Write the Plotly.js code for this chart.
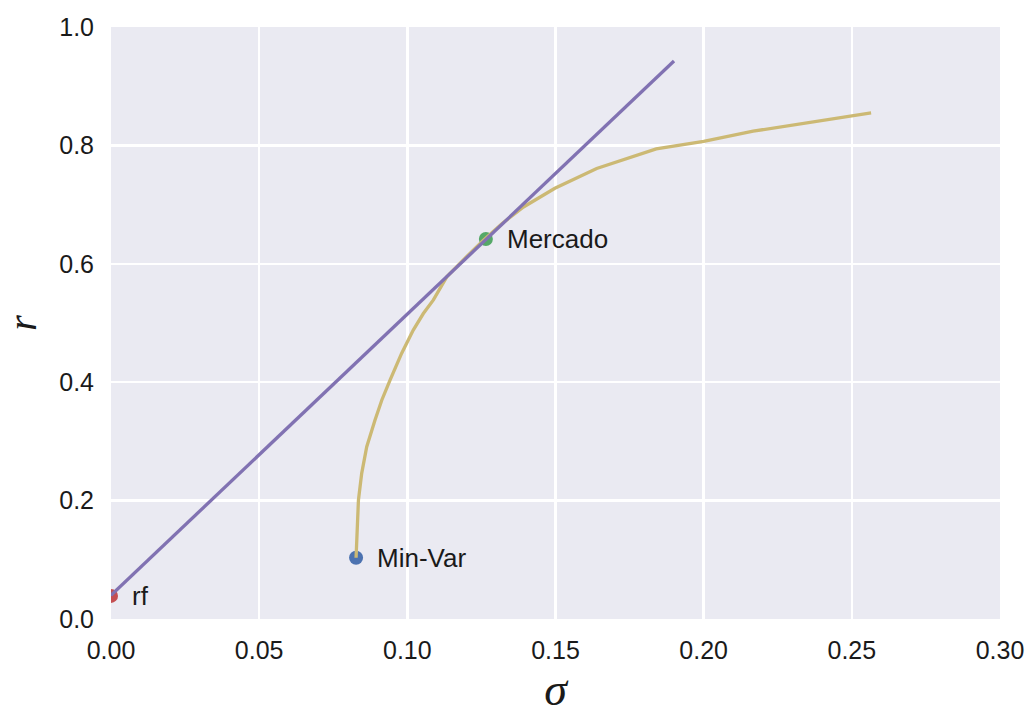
<!DOCTYPE html>
<html>
<head>
<meta charset="utf-8">
<script src="https://cdn.plot.ly/plotly-3.0.1.min.js"></script>
<style>html,body{margin:0;padding:0;background:#fff;}#chart{width:1029px;height:717px;}</style>
</head>
<body>
<div id="chart"></div>
<script>
// Efficient frontier (sigma, r)
const frontierSigma = [0.0827, 0.0829, 0.0831, 0.0835, 0.0846, 0.0863, 0.0891, 0.0914, 0.0942, 0.0981, 0.1020, 0.1054, 0.1088, 0.1133, 0.1200, 0.1257, 0.1320, 0.1392, 0.1498, 0.1639, 0.1840, 0.2000, 0.2167, 0.2565];
const frontierR     = [0.1035, 0.135, 0.1785, 0.201, 0.246, 0.291, 0.336, 0.370, 0.404, 0.449, 0.488, 0.516, 0.539, 0.578, 0.612, 0.640, 0.668, 0.696, 0.7275, 0.761, 0.794, 0.807, 0.824, 0.855];

// Capital market line
const cmlSigma = [0.0, 0.190];
const cmlR     = [0.04, 0.9426];

// Labelled points
const pointNames  = ['rf', 'Min-Var', 'Mercado'];
const pointSigma  = [0.0, 0.0827, 0.1265];
const pointR      = [0.039, 0.1035, 0.642];
const pointColors = ['#C44E52', '#4C72B0', '#55A868'];

const xTicks = [0.00, 0.05, 0.10, 0.15, 0.20, 0.25, 0.30];
const yTicks = [0.0, 0.2, 0.4, 0.6, 0.8, 1.0];

const traces = [];
pointNames.forEach((n, i) => {
  traces.push({
    type: 'scatter', mode: 'markers', x: [pointSigma[i]], y: [pointR[i]],
    marker: {color: pointColors[i], size: 14, line: {width: 0}},
    hoverinfo: 'skip', showlegend: false
  });
});
traces.push({
  type: 'scatter', mode: 'lines', x: frontierSigma, y: frontierR,
  line: {color: '#CCB974', width: 3.3}, showlegend: false
});
traces.push({
  type: 'scatter', mode: 'lines', x: cmlSigma, y: cmlR,
  line: {color: '#8172B2', width: 3.3}, showlegend: false
});

const annotations = pointNames.map((n, i) => ({
  x: pointSigma[i], y: pointR[i], xref: 'x', yref: 'y',
  text: n, showarrow: false, xanchor: 'left', yanchor: 'middle',
  xshift: 19, font: {family: 'Liberation Sans, Arial, sans-serif', size: 26, color: '#1a1a1a'}
}));

const layout = {
  width: 1029, height: 717,
  margin: {l: 111, r: 29, t: 27, b: 98},
  paper_bgcolor: '#ffffff',
  plot_bgcolor: '#EAEAF2',
  font: {family: 'Liberation Sans, Arial, sans-serif', size: 25, color: '#1a1a1a'},
  showlegend: false,
  xaxis: {
    range: [0, 0.30], tickvals: xTicks, tickformat: '.2f',
    showgrid: true, gridcolor: '#ffffff', gridwidth: 2.5,
    zeroline: false, showline: false, ticks: '', ticklabelstandoff: 14,
    tickfont: {size: 25},
    title: {text: 'σ', font: {family: 'Liberation Serif, DejaVu Serif, serif', size: 46, style: 'italic'}, standoff: 4}
  },
  yaxis: {
    range: [0, 1.0], tickvals: yTicks, tickformat: '.1f',
    showgrid: true, gridcolor: '#ffffff', gridwidth: 2.5,
    zeroline: false, showline: false, ticks: '', ticklabelstandoff: 16,
    tickfont: {size: 25},
    title: {text: 'r', font: {family: 'Liberation Serif, DejaVu Serif, serif', size: 40, style: 'italic'}, standoff: 22}
  },
  annotations: annotations
};

Plotly.newPlot('chart', traces, layout, {displayModeBar: false, staticPlot: true});
</script>
</body>
</html>
